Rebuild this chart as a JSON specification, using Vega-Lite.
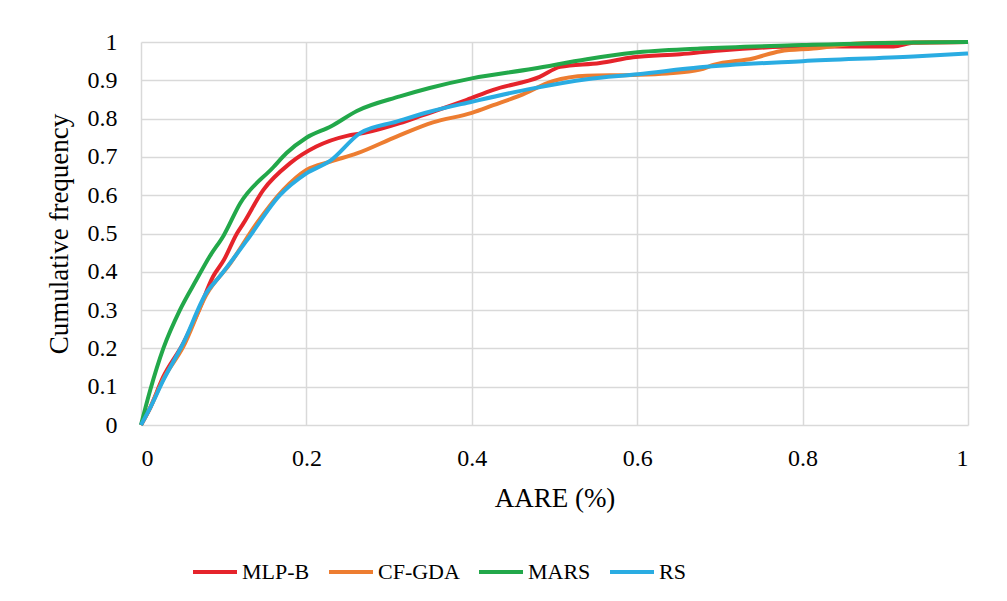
{
  "$schema": "https://vega.github.io/schema/vega-lite/v6.json",
  "width": 827,
  "height": 383,
  "autosize": "none",
  "padding": {"left": 141, "top": 42, "right": 39, "bottom": 176},
  "background": "white",
  "config": {
    "font": "Liberation Serif",
    "view": {"stroke": null}
  },
  "data": {"values": [
    {"s": "MLP-B", "x": 0, "y": 0},
    {"s": "MLP-B", "x": 0.01, "y": 0.04},
    {"s": "MLP-B", "x": 0.027, "y": 0.126},
    {"s": "MLP-B", "x": 0.051, "y": 0.213},
    {"s": "MLP-B", "x": 0.07, "y": 0.3},
    {"s": "MLP-B", "x": 0.087, "y": 0.387},
    {"s": "MLP-B", "x": 0.1, "y": 0.43},
    {"s": "MLP-B", "x": 0.116, "y": 0.5},
    {"s": "MLP-B", "x": 0.124, "y": 0.527},
    {"s": "MLP-B", "x": 0.148, "y": 0.614},
    {"s": "MLP-B", "x": 0.18, "y": 0.683},
    {"s": "MLP-B", "x": 0.212, "y": 0.727},
    {"s": "MLP-B", "x": 0.249, "y": 0.755},
    {"s": "MLP-B", "x": 0.269, "y": 0.762},
    {"s": "MLP-B", "x": 0.313, "y": 0.788},
    {"s": "MLP-B", "x": 0.341, "y": 0.809},
    {"s": "MLP-B", "x": 0.394, "y": 0.849},
    {"s": "MLP-B", "x": 0.426, "y": 0.875},
    {"s": "MLP-B", "x": 0.482, "y": 0.909},
    {"s": "MLP-B", "x": 0.507, "y": 0.935},
    {"s": "MLP-B", "x": 0.555, "y": 0.945},
    {"s": "MLP-B", "x": 0.595, "y": 0.96},
    {"s": "MLP-B", "x": 0.652, "y": 0.968},
    {"s": "MLP-B", "x": 0.7, "y": 0.978},
    {"s": "MLP-B", "x": 0.8, "y": 0.988},
    {"s": "MLP-B", "x": 0.91, "y": 0.988},
    {"s": "MLP-B", "x": 0.934, "y": 0.998},
    {"s": "MLP-B", "x": 1, "y": 1},

    {"s": "CF-GDA", "x": 0, "y": 0},
    {"s": "CF-GDA", "x": 0.01, "y": 0.04},
    {"s": "CF-GDA", "x": 0.027, "y": 0.12},
    {"s": "CF-GDA", "x": 0.051, "y": 0.204},
    {"s": "CF-GDA", "x": 0.079, "y": 0.34},
    {"s": "CF-GDA", "x": 0.108, "y": 0.422},
    {"s": "CF-GDA", "x": 0.14, "y": 0.527},
    {"s": "CF-GDA", "x": 0.172, "y": 0.614},
    {"s": "CF-GDA", "x": 0.2, "y": 0.666},
    {"s": "CF-GDA", "x": 0.229, "y": 0.688},
    {"s": "CF-GDA", "x": 0.261, "y": 0.709},
    {"s": "CF-GDA", "x": 0.309, "y": 0.753},
    {"s": "CF-GDA", "x": 0.353, "y": 0.79},
    {"s": "CF-GDA", "x": 0.4, "y": 0.815},
    {"s": "CF-GDA", "x": 0.426, "y": 0.835},
    {"s": "CF-GDA", "x": 0.458, "y": 0.86},
    {"s": "CF-GDA", "x": 0.498, "y": 0.898},
    {"s": "CF-GDA", "x": 0.539, "y": 0.912},
    {"s": "CF-GDA", "x": 0.595, "y": 0.914},
    {"s": "CF-GDA", "x": 0.636, "y": 0.918},
    {"s": "CF-GDA", "x": 0.676, "y": 0.928},
    {"s": "CF-GDA", "x": 0.692, "y": 0.94},
    {"s": "CF-GDA", "x": 0.74, "y": 0.957},
    {"s": "CF-GDA", "x": 0.773, "y": 0.976},
    {"s": "CF-GDA", "x": 0.813, "y": 0.983},
    {"s": "CF-GDA", "x": 0.873, "y": 0.997},
    {"s": "CF-GDA", "x": 1, "y": 1},

    {"s": "MARS", "x": 0, "y": 0},
    {"s": "MARS", "x": 0.011, "y": 0.09},
    {"s": "MARS", "x": 0.027, "y": 0.2},
    {"s": "MARS", "x": 0.047, "y": 0.3},
    {"s": "MARS", "x": 0.067, "y": 0.379},
    {"s": "MARS", "x": 0.083, "y": 0.44},
    {"s": "MARS", "x": 0.1, "y": 0.495},
    {"s": "MARS", "x": 0.12, "y": 0.579},
    {"s": "MARS", "x": 0.16, "y": 0.673},
    {"s": "MARS", "x": 0.176, "y": 0.71},
    {"s": "MARS", "x": 0.2, "y": 0.75},
    {"s": "MARS", "x": 0.23, "y": 0.78},
    {"s": "MARS", "x": 0.261, "y": 0.82},
    {"s": "MARS", "x": 0.313, "y": 0.858},
    {"s": "MARS", "x": 0.349, "y": 0.88},
    {"s": "MARS", "x": 0.4, "y": 0.905},
    {"s": "MARS", "x": 0.474, "y": 0.93},
    {"s": "MARS", "x": 0.539, "y": 0.955},
    {"s": "MARS", "x": 0.595, "y": 0.972},
    {"s": "MARS", "x": 0.676, "y": 0.983},
    {"s": "MARS", "x": 0.8, "y": 0.992},
    {"s": "MARS", "x": 0.934, "y": 0.999},
    {"s": "MARS", "x": 1, "y": 1},

    {"s": "RS", "x": 0, "y": 0},
    {"s": "RS", "x": 0.01, "y": 0.04},
    {"s": "RS", "x": 0.027, "y": 0.117},
    {"s": "RS", "x": 0.051, "y": 0.213},
    {"s": "RS", "x": 0.079, "y": 0.345},
    {"s": "RS", "x": 0.096, "y": 0.39},
    {"s": "RS", "x": 0.128, "y": 0.482},
    {"s": "RS", "x": 0.168, "y": 0.6},
    {"s": "RS", "x": 0.2, "y": 0.657},
    {"s": "RS", "x": 0.229, "y": 0.69},
    {"s": "RS", "x": 0.265, "y": 0.762},
    {"s": "RS", "x": 0.309, "y": 0.792},
    {"s": "RS", "x": 0.349, "y": 0.818},
    {"s": "RS", "x": 0.4, "y": 0.844},
    {"s": "RS", "x": 0.474, "y": 0.879},
    {"s": "RS", "x": 0.539, "y": 0.903},
    {"s": "RS", "x": 0.601, "y": 0.916},
    {"s": "RS", "x": 0.676, "y": 0.934},
    {"s": "RS", "x": 0.8, "y": 0.95},
    {"s": "RS", "x": 0.934, "y": 0.962},
    {"s": "RS", "x": 1, "y": 0.97}
  ]},
  "mark": {"type": "line", "strokeWidth": 4, "interpolate": "monotone"},
  "encoding": {
    "x": {"field": "x", "type": "quantitative", "title": "AARE (%)",
      "scale": {"domain": [0, 1], "nice": false},
      "axis": {"values": [0, 0.2, 0.4, 0.6, 0.8, 1], "format": "~g", "labelPadding": 21, "titlePadding": 15,
        "gridColor": "#d9d9d9", "gridWidth": 1.5, "domain": false, "ticks": false,
        "labelFont": "Liberation Serif", "titleFont": "Liberation Serif", "labelColor": "#000", "titleColor": "#000",
        "labelFontSize": 24, "titleFontSize": 27, "titleFontWeight": "normal"}},
    "y": {"field": "y", "type": "quantitative", "title": "Cumulative frequency",
      "scale": {"domain": [0, 1], "nice": false},
      "axis": {"values": [0, 0.1, 0.2, 0.3, 0.4, 0.5, 0.6, 0.7, 0.8, 0.9, 1], "format": "~g", "labelPadding": 24, "titlePadding": 14,
        "gridColor": "#d9d9d9", "gridWidth": 1.5, "domain": false, "ticks": false,
        "labelFont": "Liberation Serif", "titleFont": "Liberation Serif", "labelColor": "#000", "titleColor": "#000",
        "labelFontSize": 24, "titleFontSize": 27, "titleFontWeight": "normal"}},
    "color": {"field": "s", "type": "nominal", "title": null,
      "scale": {"domain": ["MLP-B", "CF-GDA", "MARS", "RS"], "range": ["#E5242B", "#ED7D31", "#22A84A", "#2AACE2"]},
      "legend": {"orient": "none", "direction": "horizontal", "legendX": 50, "legendY": 506,
        "symbolType": "stroke", "symbolSize": 1936, "symbolStrokeWidth": 4,
        "labelFont": "Liberation Serif", "labelFontSize": 22, "labelColor": "#000", "labelOffset": 3, "columnPadding": 11}}
  }
}
